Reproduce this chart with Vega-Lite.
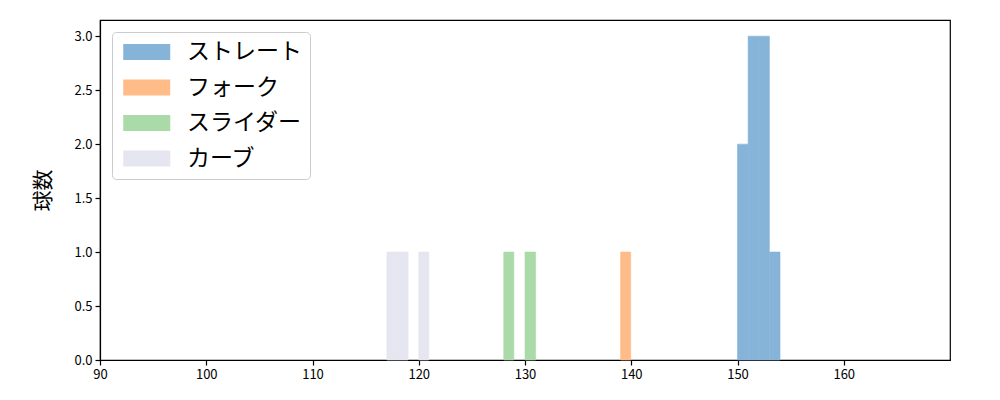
{
  "$schema": "https://vega.github.io/schema/vega-lite/v6.json",
  "width": 850,
  "height": 340,
  "autosize": "none",
  "padding": {"left": 100, "top": 20, "right": 50, "bottom": 40},
  "background": "white",
  "config": {
    "view": {"stroke": "black", "strokeWidth": 1.2},
    "font": "Noto Sans CJK JP",
    "axis": {"grid": false, "domainColor": "black", "tickColor": "black", "labelColor": "black", "labelFontSize": 13, "labelFont": "Noto Sans CJK JP", "tickSize": 5, "domainWidth": 1.2, "tickWidth": 1.2, "labelPadding": 3, "labelFlush": false, "labelOverlap": false}
  },
  "data": {
    "values": [
      {"series": "ストレート", "start": 150, "end": 151, "count": 2},
      {"series": "ストレート", "start": 151, "end": 152, "count": 3},
      {"series": "ストレート", "start": 152, "end": 153, "count": 3},
      {"series": "ストレート", "start": 153, "end": 154, "count": 1},
      {"series": "フォーク", "start": 139, "end": 139.95, "count": 1},
      {"series": "スライダー", "start": 128, "end": 128.95, "count": 1},
      {"series": "スライダー", "start": 130, "end": 131, "count": 1},
      {"series": "カーブ", "start": 117, "end": 118, "count": 1},
      {"series": "カーブ", "start": 118, "end": 119, "count": 1},
      {"series": "カーブ", "start": 120, "end": 120.95, "count": 1}
    ]
  },
  "mark": {"type": "bar", "opacity": 1, "strokeWidth": 0.6},
  "encoding": {
    "x": {"field": "start", "type": "quantitative", "scale": {"domain": [90, 170], "nice": false, "zero": false, "padding": 0}, "axis": {"values": [90, 100, 110, 120, 130, 140, 150, 160], "title": null}},
    "x2": {"field": "end"},
    "y": {"field": "count", "type": "quantitative", "scale": {"domain": [0, 3.15], "nice": false, "padding": 0}, "axis": {"values": [0, 0.5, 1, 1.5, 2, 2.5, 3], "format": ".1f", "title": "球数", "titleFont": "Noto Sans CJK JP", "titleFontSize": 21, "titleFontWeight": "normal", "titleColor": "black", "titlePadding": 20}},
    "y2": {"datum": 0},
    "stroke": {
      "field": "series", "type": "nominal", "legend": null,
      "scale": {"domain": ["ストレート", "フォーク", "スライダー", "カーブ"], "range": ["#86b4d8", "#ffbb88", "#abdaa9", "#e6e6f0"]}
    },
    "color": {
      "field": "series", "type": "nominal",
      "scale": {"domain": ["ストレート", "フォーク", "スライダー", "カーブ"], "range": ["#86b4d8", "#ffbb88", "#abdaa9", "#e6e6f0"]},
      "legend": {
        "title": null, "orient": "top-left", "offset": 12,
        "labelFont": "Noto Sans CJK JP", "labelFontSize": 23, "labelColor": "black",
        "symbolType": "M-0.745,-0.68L3.255,-0.68L3.255,0.68L-0.745,0.68Z", "symbolSize": 552, "symbolOpacity": 1, "symbolStrokeWidth": 0,
        "strokeColor": "#cccccc", "fillColor": "white", "cornerRadius": 4, "padding": 8,
        "rowPadding": 11.5, "labelOffset": 43
      }
    }
  }
}
